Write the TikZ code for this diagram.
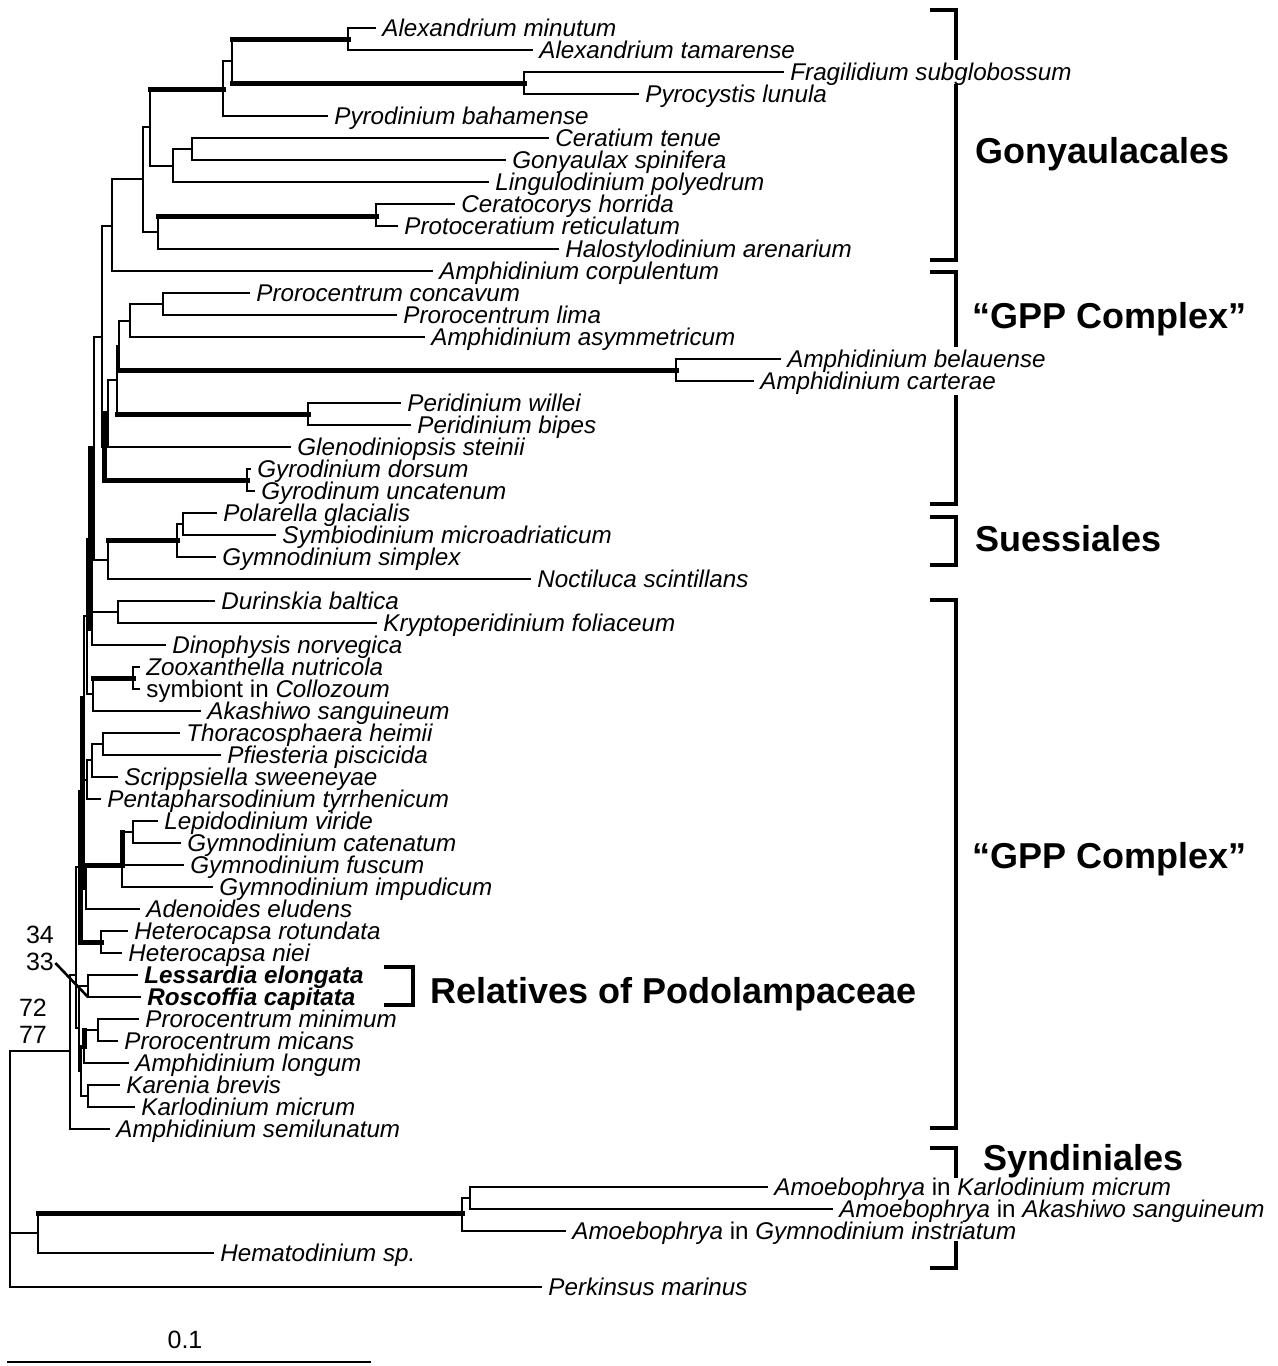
\documentclass[tikz,border=0pt]{standalone}
\usepackage{fontspec}
\setmainfont{Liberation Sans}
\tikzset{
  x=0.5pt, y=-0.5pt,
  br/.style={line width=1.3pt, line cap=rect},
  brt/.style={line width=2.5pt, line cap=rect},
  bk/.style={line width=2.3pt, line cap=rect, line join=miter},
  leaf/.style={anchor=base west, inner sep=0pt, font=\fontsize{12.1pt}{14pt}\selectfont\itshape},
  grp/.style={anchor=base west, inner sep=0pt, font=\fontsize{18pt}{20pt}\selectfont\bfseries},
  num/.style={anchor=center, inner sep=0pt, font=\fontsize{12.5pt}{14pt}\selectfont}
}
\newcommand\lf[4]{\coordinate (#1) at (#2,#3); \node[leaf] (#1L) at ([xshift=3.5pt,yshift=-4pt]#1) {#4};}
\newcommand\edg[2]{\draw[br] (#1) |- (#2);}
\newcommand\edgT[2]{\draw[br] (#1) -- (#1 |- #2); \draw[brt] (#1 |- #2) -- (#2);}
\newcommand\edgV[2]{\draw[brt] (#1) -- (#1 |- #2); \draw[br] (#1 |- #2) -- (#2);}
\newcommand\edgVT[2]{\draw[brt] (#1) |- (#2);}
\begin{document}
\begin{tikzpicture}
\path[use as bounding box] (0,0) rectangle (1278,1366);
% ---------- leaves ----------
\lf{a1}{375}{28}{Alexandrium minutum}
\lf{a2}{532}{50}{Alexandrium tamarense}
\lf{a3}{783}{72}{Fragilidium subglobossum}
\lf{a4}{638}{94}{Pyrocystis lunula}
\lf{a5}{327}{116}{Pyrodinium bahamense}
\lf{a6}{548}{138}{Ceratium tenue}
\lf{a7}{505}{160}{Gonyaulax spinifera}
\lf{a8}{488}{182}{Lingulodinium polyedrum}
\lf{a9}{454}{204}{Ceratocorys horrida}
\lf{a10}{397}{226}{Protoceratium reticulatum}
\lf{a11}{558}{249}{Halostylodinium arenarium}
\lf{a12}{432}{271}{Amphidinium corpulentum}
\lf{b13}{249}{293}{Prorocentrum concavum}
\lf{b14}{396}{315}{Prorocentrum lima}
\lf{b15}{424}{337}{Amphidinium asymmetricum}
\lf{b16}{780}{359}{Amphidinium belauense}
\lf{b17}{753}{381}{Amphidinium carterae}
\lf{b18}{400}{403}{Peridinium willei}
\lf{b19}{410}{425}{Peridinium bipes}
\lf{b20}{290}{447}{Glenodiniopsis steinii}
\lf{b21}{250}{469}{Gyrodinium dorsum}
\lf{b22}{254}{491}{Gyrodinum uncatenum}
\lf{c23}{216}{513}{Polarella glacialis}
\lf{c24}{275}{535}{Symbiodinium microadriaticum}
\lf{c25}{215}{557}{Gymnodinium simplex}
\lf{c26}{530}{579}{Noctiluca scintillans}
\lf{d27}{214}{601}{Durinskia baltica}
\lf{d28}{376}{623}{Kryptoperidinium foliaceum}
\lf{d29}{165}{645}{Dinophysis norvegica}
\lf{d30}{139}{667}{Zooxanthella nutricola}
\lf{d31}{139}{689}{\upshape symbiont in \itshape Collozoum}
\lf{d32}{200}{711}{Akashiwo sanguineum}
\lf{d33}{179}{733}{Thoracosphaera heimii}
\lf{d34}{220}{755}{Pfiesteria piscicida}
\lf{d35}{117}{777}{Scrippsiella sweeneyae}
\lf{d36}{100}{799}{Pentapharsodinium tyrrhenicum}
\lf{d37}{157}{821}{Lepidodinium viride}
\lf{d38}{180}{843}{Gymnodinium catenatum}
\lf{d39}{183}{865}{Gymnodinium fuscum}
\lf{d40}{212}{887}{Gymnodinium impudicum}
\lf{d41}{139}{909}{Adenoides eludens}
\lf{d42}{127}{931}{Heterocapsa rotundata}
\lf{d43}{121}{953}{Heterocapsa niei}
\lf{d44}{137}{975}{\bfseries Lessardia elongata}
\lf{d45}{140}{997}{\bfseries Roscoffia capitata}
\lf{d46}{138}{1019}{Prorocentrum minimum}
\lf{d47}{117}{1041}{Prorocentrum micans}
\lf{d48}{128}{1063}{Amphidinium longum}
\lf{d49}{119}{1085}{Karenia brevis}
\lf{d50}{134}{1107}{Karlodinium micrum}
\lf{d51}{109}{1129}{Amphidinium semilunatum}
\lf{e52}{767}{1187}{Amoebophrya \upshape in \itshape Karlodinium micrum}
\lf{e53}{832}{1209}{Amoebophrya \upshape in \itshape Akashiwo sanguineum}
\lf{e54}{565}{1231}{Amoebophrya \upshape in \itshape Gymnodinium instriatum}
\lf{e55}{213}{1253}{Hematodinium sp.}
\lf{e56}{541}{1287}{Perkinsus marinus}
% ---------- internal nodes ----------
\coordinate (nAlex) at (348,39);
\coordinate (nFrag) at (524,83);
\coordinate (n232) at (232,61);
\coordinate (n223) at (223,89);
\coordinate (n192) at (192,149);
\coordinate (n173) at (173,166);
\coordinate (n150) at (150,127);
\coordinate (nCer) at (376,216);
\coordinate (n158) at (158,232);
\coordinate (n143) at (143,179);
\coordinate (n112) at (112,226);
\coordinate (nPP) at (163,304);
\coordinate (n130) at (130,321);
\coordinate (nBel) at (676,370);
\coordinate (nA) at (119,346);
\coordinate (nPer) at (308,414);
\coordinate (nB) at (117,380);
\coordinate (nC) at (108,413);
\coordinate (nGyr) at (247,480);
\coordinate (nD) at (104,447);
\coordinate (nE) at (102,337);
\coordinate (n183) at (183,524);
\coordinate (nSu) at (177,540);
\coordinate (nS2) at (108,560);
\coordinate (nF) at (94,448);
\coordinate (nDur) at (118,612);
\coordinate (nD2) at (92,628);
\coordinate (nG) at (90,539);
\coordinate (nZ1) at (133,678);
\coordinate (nZ2) at (93,694);
\coordinate (nH1) at (87,616);
\coordinate (nT1) at (103,744);
\coordinate (nT2) at (92,760);
\coordinate (nT3) at (87,780);
\coordinate (nH2) at (84,698);
\coordinate (nG1) at (133,832);
\coordinate (nG2) at (122,865);
\coordinate (nA1) at (86,887);
\coordinate (nH3) at (82,792);
\coordinate (nHe) at (101,942);
\coordinate (nH4) at (80,867);
\coordinate (nLR) at (88,986);
\coordinate (nP1) at (98,1030);
\coordinate (nP2) at (84,1046);
\coordinate (nKB) at (88,1096);
\coordinate (nL) at (81,1071);
\coordinate (nN) at (79,1028);
\coordinate (nK2) at (76,975);
\coordinate (nK1) at (70,1051);
\coordinate (n470) at (470,1198);
\coordinate (n462) at (462,1213);
\coordinate (n38) at (38,1233);
\coordinate (root) at (10,1051);
% ---------- edges ----------
\edg{nAlex}{a1} \edg{nAlex}{a2}
\edg{nFrag}{a3} \edg{nFrag}{a4}
\edgT{n232}{nAlex} \edgT{n232}{nFrag}
\edg{n223}{n232} \edg{n223}{a5}
\edg{n192}{a6} \edg{n192}{a7}
\edg{n173}{n192} \edg{n173}{a8}
\edgT{n150}{n223} \edg{n150}{n173}
\edg{nCer}{a9} \edg{nCer}{a10}
\edgT{n158}{nCer} \edg{n158}{a11}
\edg{n143}{n150} \edg{n143}{n158}
\edg{n112}{n143} \edg{n112}{a12}
\edg{nPP}{b13} \edg{nPP}{b14}
\edg{n130}{nPP} \edg{n130}{b15}
\edg{nBel}{b16} \edg{nBel}{b17}
\edg{nA}{n130} \edgT{nA}{nBel}
\edg{nPer}{b18} \edg{nPer}{b19}
\edg{nB}{nA} \edgT{nB}{nPer}
\edg{nC}{nB} \edg{nC}{b20}
\edg{nGyr}{b21} \edg{nGyr}{b22}
\edgV{nD}{nC} \edgVT{nD}{nGyr}
\edg{nE}{n112} \edg{nE}{nD}
\edg{n183}{c23} \edg{n183}{c24}
\edg{nSu}{n183} \edg{nSu}{c25}
\edgT{nS2}{nSu} \edg{nS2}{c26}
\edg{nF}{nE} \edg{nF}{nS2}
\edg{nDur}{d27} \edg{nDur}{d28}
\edg{nD2}{nDur} \edg{nD2}{d29}
\edgV{nG}{nF} \edgV{nG}{nD2}
\edg{nZ1}{d30} \edg{nZ1}{d31}
\edgT{nZ2}{nZ1} \edg{nZ2}{d32}
\edg{nH1}{nG} \edg{nH1}{nZ2}
\edg{nT1}{d33} \edg{nT1}{d34}
\edg{nT2}{nT1} \edg{nT2}{d35}
\edg{nT3}{nT2} \edg{nT3}{d36}
\edg{nH2}{nH1} \edg{nH2}{nT3}
\edg{nG1}{d37} \edg{nG1}{d38}
\edgV{nG2}{nG1} \edg{nG2}{d39} \edg{nG2}{d40}
\edgT{nA1}{nG2} \edg{nA1}{d41}
\edgV{nH3}{nH2} \edgV{nH3}{nA1}
\edg{nHe}{d42} \edg{nHe}{d43}
\edgV{nH4}{nH3} \edgVT{nH4}{nHe}
\edg{nLR}{d44} \edg{nLR}{d45}
\edg{nP1}{d46} \edg{nP1}{d47}
\edgV{nP2}{nP1} \edg{nP2}{d48}
\edg{nKB}{d49} \edg{nKB}{d50}
\edg{nL}{nP2} \edg{nL}{nKB}
\edg{nN}{nLR} \edg{nN}{nL}
\edg{nK2}{nH4} \edg{nK2}{nN}
\edg{nK1}{nK2} \edg{nK1}{d51}
\edg{n470}{e52} \edg{n470}{e53}
\edg{n462}{n470} \edg{n462}{e54}
\edgT{n38}{n462} \edg{n38}{e55}
\edg{root}{nK1} \edg{root}{n38} \edg{root}{e56}
% ---------- support values ----------
\node[num] (s34) at (40,935) {34};
\node[num] (s33) at (40,962) {33};
\node[num] (s72) at (33,1008) {72};
\node[num] (s77) at (33,1035) {77};
\coordinate (ptr) at (87,996);
\draw[br] ([xshift=1pt,yshift=-1pt]s33.east) -- (ptr);
% ---------- brackets and group labels ----------
\draw[bk] (932,10) -- (956,10) -- (956,58);
\draw[bk] (956,86) -- (956,260) -- (932,260);
\node[grp] (gony) at (975,163) {Gonyaulacales};
\draw[bk] (932,272) -- (956,272) -- (956,345);
\draw[bk] (956,397) -- (956,504) -- (932,504);
\node[grp] (gpp1) at (972,328) {“GPP Complex”};
\draw[bk] (932,517) -- (956,517) -- (956,565) -- (932,565);
\node[grp] (suess) at (975,551) {Suessiales};
\draw[bk] (932,600) -- (956,600) -- (956,1128) -- (932,1128);
\node[grp] (gpp2) at (972,868) {“GPP Complex”};
\draw[bk] (932,1148) -- (956,1148) -- (956,1176);
\draw[bk] (956,1243) -- (956,1268) -- (932,1268);
\node[grp] (synd) at (983,1170) {Syndiniales};
\draw[bk] (386,967) -- (413,967) -- (413,1005) -- (386,1005);
\node[grp] (podo) at (430,1003) {Relatives of Podolampaceae};
% ---------- scale bar ----------
\coordinate (sb1) at (8,1362);
\coordinate (sb2) at (370,1362);
\draw[br] (sb1) -- (sb2);
\node[num] (sblab) at (185,1340) {0.1};
\end{tikzpicture}
\end{document}
